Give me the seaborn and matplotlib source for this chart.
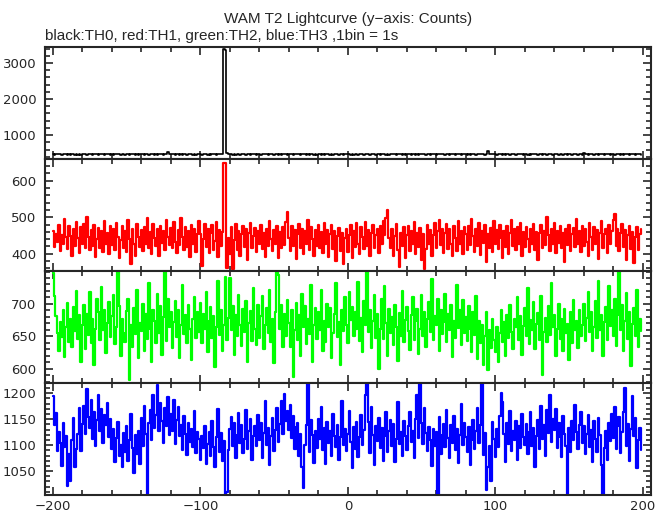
import numpy as np
import matplotlib
matplotlib.use("Agg")
import matplotlib.pyplot as plt
import seaborn as sns
from matplotlib.ticker import MultipleLocator

# counts per 1 s bin, starting at t = -200 s
th0 = [
    470, 458, 476, 462, 481, 467, 455, 473, 463, 478, 460, 469, 452, 474, 466, 459, 477, 461, 470, 456,
    468, 479, 463, 454, 472, 466, 483, 459, 471, 462, 475, 457, 468, 480, 464, 453, 470, 466, 476, 460,
    472, 458, 467, 479, 462, 470, 455, 474, 466, 461, 478, 469, 454, 471, 463, 476, 460, 468, 457, 473,
    465, 471, 459, 477, 463, 456, 470, 468, 475, 461, 466, 452, 473, 464, 479, 458, 469, 462, 520, 484,
    470, 463, 476, 458, 467, 472, 455, 469, 461, 478, 464, 457, 471, 466, 474, 460, 468, 453, 475, 462,
    469, 458, 473, 465, 479, 461, 467, 456, 472, 463, 470, 459, 476, 466, 462, 480, 3385, 3370, 498, 471,
    463, 475, 458, 469, 461, 477, 466, 455, 472, 464, 470, 459, 474, 467, 452, 471, 465, 478, 460, 468,
    473, 457, 466, 480, 462, 469, 455, 475, 463, 471, 458, 467, 476, 461, 470, 454, 468, 473, 465, 459,
    471, 464, 477, 458, 469, 462, 474, 467, 455, 472, 463, 479, 460, 468, 456, 473, 466, 461, 475, 459,
    467, 474, 460, 469, 456, 472, 465, 478, 461, 470, 458, 466, 475, 463, 453, 471, 467, 460, 476, 464,
    487, 472, 461, 468, 455, 474, 466, 459, 477, 463, 470, 457, 469, 475, 462, 451, 472, 466, 479, 460,
    468, 473, 457, 470, 464, 478, 461, 469, 455, 472, 466, 480, 463, 458, 471, 467, 475, 460, 469, 454,
    472, 463, 477, 459, 468, 474, 461, 470, 456, 466, 479, 462, 471, 458, 467, 473, 460, 476, 464, 469,
    457, 471, 466, 475, 462, 469, 453, 473, 465, 460, 478, 467, 471, 459, 474, 463, 468, 456, 472, 466,
    470, 461, 475, 458, 467, 473, 464, 456, 471, 468, 477, 462, 469, 459, 474, 560, 486, 470, 463, 475,
    467, 458, 472, 464, 478, 461, 469, 455, 473, 466, 460, 476, 463, 470, 457, 468, 474, 462, 471, 459,
    474, 465, 460, 471, 457, 468, 476, 463, 470, 454, 467, 473, 461, 478, 466, 459, 472, 464, 469, 456,
    470, 463, 477, 460, 468, 474, 458, 466, 472, 461, 469, 475, 457, 467, 463, 479, 460, 471, 465, 458,
    496, 474, 466, 459, 472, 463, 470, 456, 475, 468, 461, 473, 464, 469, 455, 471, 466, 478, 460, 467,
    472, 458, 469, 463, 476, 461, 468, 454, 473, 466, 470, 459, 475, 462, 468, 457, 471, 464, 469, 460,
]

th1 = [
    462, 418, 455, 431, 480, 408, 452, 427, 496, 445, 413, 477, 449, 394, 468, 421, 486, 442, 403, 473,
    428, 481, 415, 502, 447, 409, 466, 422, 478, 392, 441, 470, 417, 462, 405, 489, 426, 458, 399, 476,
    423, 467, 411, 484, 445, 388, 438, 476, 417, 461, 404, 493, 440, 372, 469, 426, 395, 481, 446, 418,
    465, 408, 472, 427, 498, 416, 459, 400, 482, 443, 421, 468, 394, 477, 429, 462, 410, 492, 445, 423,
    471, 415, 488, 431, 402, 466, 424, 499, 447, 409, 473, 419, 462, 391, 480, 427, 468, 406, 454, 489,
    453, 366, 440, 482, 418, 469, 401, 457, 478, 411, 436, 488, 392, 465, 420, 459, 650, 648, 361, 442,
    400, 473, 358, 437, 482, 409, 461, 395, 454, 476, 418, 467, 383, 458, 485, 416, 449, 471, 404, 462,
    426, 480, 413, 457, 392, 469, 422, 491, 441, 407, 465, 428, 476, 388, 459, 417, 472, 425, 488, 515,
    442, 408, 477, 421, 464, 386, 455, 482, 416, 468, 399, 461, 427, 493, 410, 473, 441, 395, 466, 422,
    478, 417, 459, 403, 485, 428, 466, 391, 454, 480, 414, 462, 380, 449, 471, 408, 457, 372, 443, 468,
    405, 452, 478, 387, 461, 419, 484, 426, 400, 473, 445, 412, 488, 421, 466, 393, 457, 479, 415, 451,
    468, 403, 476, 427, 490, 452, 499, 521, 443, 416, 469, 395, 448, 481, 409, 364, 458, 422, 472, 389,
    451, 476, 408, 463, 426, 488, 400, 457, 419, 471, 384, 455, 359, 413, 478, 427, 465, 394, 452, 484,
    416, 462, 493, 423, 469, 402, 456, 481, 414, 467, 428, 393, 475, 442, 408, 489, 426, 461, 399, 473,
    455, 411, 477, 425, 496, 448, 406, 469, 420, 484, 397, 462, 429, 478, 378, 454, 416, 471, 405, 490,
    427, 466, 412, 480, 443, 388, 461, 419, 476, 400, 457, 492, 422, 468, 409, 472, 428, 485, 393, 459,
    418, 473, 441, 406, 467, 427, 482, 410, 459, 383, 456, 478, 415, 463, 424, 502, 451, 407, 469, 426,
    484, 401, 462, 429, 475, 416, 458, 377, 467, 423, 479, 408, 454, 471, 418, 496, 427, 463, 404, 476,
    421, 468, 432, 395, 483, 447, 411, 472, 426, 464, 386, 458, 489, 417, 455, 469, 403, 478, 428, 461,
    492, 509, 422, 468, 407, 456, 481, 419, 465, 382, 451, 476, 413, 460, 375, 447, 472, 409, 455, 468,
]

th2 = [
    748, 712, 681, 655, 628, 672, 649, 690, 618, 664, 702, 641, 677, 633, 695, 658, 720, 646, 683, 610,
    667, 698, 631, 684, 652, 719, 640, 676, 605, 662, 707, 688, 645, 726, 659, 691, 624, 670, 703, 649,
    681, 713, 638, 664, 750, 697, 620, 677, 655, 641, 689, 708, 582, 668, 634, 693, 653, 722, 616, 671,
    658, 700, 627, 684, 646, 733, 662, 611, 690, 674, 639, 716, 655, 697, 621, 680, 750, 643, 708, 665,
    687, 632, 672, 705, 649, 691, 617, 668, 729, 654, 683, 640, 699, 662, 613, 676, 710, 647, 688, 657,
    702, 639, 684, 661, 719, 626, 673, 695, 648, 681, 603, 664, 736, 652, 690, 628, 667, 742, 645, 678,
    740, 659, 697, 621, 683, 650, 714, 668, 635, 692, 657, 704, 610, 671, 689, 643, 725, 662, 637, 699,
    648, 682, 712, 630, 667, 694, 655, 721, 641, 676, 608, 688, 750, 744, 662, 698, 633, 684, 651, 706,
    671, 634, 690, 587, 659, 702, 645, 683, 620, 715, 664, 697, 638, 676, 654, 729, 611, 668, 693, 646,
    687, 659, 722, 628, 673, 641, 700, 664, 694, 617, 655, 685, 732, 649, 672, 606, 691, 658, 710, 668,
    639, 718, 675, 696, 651, 688, 662, 734, 643, 679, 625, 704, 668, 750, 656, 691, 632, 673, 713, 648,
    684, 600, 662, 708, 646, 727, 670, 619, 692, 655, 680, 637, 699, 664, 612, 686, 651, 720, 641, 675,
    696, 658, 629, 683, 710, 645, 673, 692, 623, 661, 714, 650, 688, 634, 677, 703, 657, 739, 644, 681,
    668, 707, 627, 690, 653, 672, 716, 641, 685, 660, 698, 618, 674, 648, 729, 663, 690, 637, 706, 655,
    680, 643, 697, 661, 626, 688, 652, 712, 615, 674, 639, 668, 605, 650, 688, 598, 660, 632, 676, 645,
    625, 664, 611, 655, 690, 641, 672, 619, 683, 648, 699, 657, 630, 676, 664, 711, 645, 682, 621, 666,
    693, 650, 724, 638, 675, 659, 703, 631, 669, 686, 644, 712, 590, 657, 678, 641, 697, 652, 733, 664,
    683, 620, 661, 700, 646, 677, 628, 692, 655, 669, 613, 687, 640, 706, 659, 674, 632, 690, 651, 668,
    700, 642, 678, 719, 656, 687, 627, 664, 705, 648, 735, 660, 683, 619, 672, 696, 645, 728, 666, 690,
    651, 707, 635, 683, 750, 660, 699, 628, 674, 717, 646, 688, 604, 669, 694, 650, 722, 633, 677, 658,
]

th3 = [
    1195, 1138, 1162, 1089, 1126, 1104, 1060, 1142, 1097, 1118, 1022, 1083, 1030, 1109, 1152, 1058, 1092, 1122, 1171, 1088,
    1140, 1176, 1121, 1208, 1155, 1134, 1187, 1112, 1163, 1098, 1148, 1196, 1127, 1170, 1105, 1158, 1139, 1182, 1116, 1150,
    1092, 1131, 1068, 1113, 1145, 1079, 1101, 1058, 1124, 1086, 1137, 1070, 1109, 1160, 1095, 1047, 1119, 1082, 1128, 1064,
    1153, 1099, 1175, 1121, 1005, 1142, 1168, 1110, 1197, 1134, 1158, 1215, 1127, 1181, 1146, 1105, 1172, 1137, 1192, 1119,
    1160, 1128, 1187, 1103, 1149, 1174, 1117, 1138, 1091, 1156, 1122, 1081, 1143, 1106, 1132, 1097, 1165, 1085, 1125, 1111,
    1072, 1118, 1094, 1137, 1063, 1102, 1125, 1079, 1146, 1097, 1058, 1115, 1170, 1086, 1123, 1069, 1108, 1006, 1009, 1090,
    1132, 1155, 1098, 1143, 1076, 1120, 1161, 1105, 1139, 1084, 1112, 1167, 1093, 1128, 1150, 1071, 1117, 1136, 1099, 1158,
    1110, 1142, 1075, 1124, 1185, 1101, 1133, 1062, 1118, 1152, 1089, 1129, 1171, 1106, 1140, 1185, 1121, 1198, 1147, 1165,
    1130, 1178, 1114, 1156, 1093, 1135, 1143, 1080, 1122, 1058, 1017, 1101, 1139, 1220, 1087, 1149, 1119, 1066, 1127, 1095,
    1151, 1112, 1173, 1090, 1134, 1063, 1145, 1104, 1127, 1080, 1160, 1118, 1097, 1138, 1072, 1115, 1186, 1101, 1131, 1089,
    1122, 1166, 1107, 1056, 1135, 1093, 1144, 1078, 1116, 1158, 1101, 1129, 1197, 1220, 1145, 1084, 1174, 1119, 1061, 1137,
    1108, 1152, 1095, 1134, 1070, 1117, 1163, 1086, 1127, 1149, 1099, 1140, 1068, 1112, 1183, 1103, 1125, 1079, 1146, 1118,
    1091, 1137, 1164, 1107, 1128, 1075, 1150, 1196, 1113, 1220, 1143, 1102, 1171, 1124, 1088, 1135, 1110, 1059, 1132, 1098,
    1126, 1005, 1154, 1083, 1119, 1141, 1097, 1168, 1114, 1076, 1138, 1105, 1157, 1090, 1131, 1066, 1120, 1179, 1100, 1143,
    1116, 1087, 1135, 1062, 1109, 1148, 1093, 1127, 1171, 1105, 1139, 1220, 1081, 1124, 1013, 1058, 1099, 1030, 1145, 1112,
    1077, 1132, 1096, 1157, 1200, 1184, 1121, 1068, 1143, 1103, 1166, 1089, 1128, 1110, 1147, 1072, 1137, 1094, 1160, 1115,
    1101, 1141, 1083, 1126, 1163, 1098, 1134, 1057, 1118, 1149, 1092, 1175, 1112, 1138, 1080, 1167, 1123, 1196, 1106, 1150,
    1130, 1169, 1094, 1142, 1115, 1077, 1156, 1121, 1099, 1005, 1133, 1086, 1147, 1110, 1178, 1125, 1093, 1139, 1164, 1104,
    1136, 1082, 1121, 1159, 1097, 1130, 1068, 1146, 1112, 1087, 1152, 1119, 1061, 1005, 1095, 1128, 1071, 1143, 1108, 1160,
    1114, 1173, 1092, 1137, 1155, 1084, 1126, 1164, 1210, 1099, 1141, 1070, 1131, 1195, 1117, 1152, 1056, 1109, 1134, 1090,
]

series = [th0, th1, th2, th3]
colors = ["black", "#ff0000", "#00ff00", "#0000ff"]
widths = [1.2, 1.6, 1.6, 1.6]
ylims = [(340, 3450), (353, 660), (578, 751), (1004, 1220)]
yticks = [[1000, 2000, 3000], [400, 500, 600], [600, 650, 700], [1050, 1100, 1150, 1200]]
minor_y = [200, 20, 10, 10]

sns.set_style("ticks")
plt.rcParams["font.family"] = ["Liberation Sans", "DejaVu Sans"]

fig, axes = plt.subplots(4, 1, figsize=(6.69, 5.15), dpi=100, sharex=True,
                         gridspec_kw={"hspace": 0})
fig.subplots_adjust(left=0.067, right=0.973, top=0.909, bottom=0.039)

for ax, vals, c, lw, yl, yt, mn in zip(axes, series, colors, widths, ylims, yticks, minor_y):
    t = np.arange(-200, -200 + len(vals))
    sns.lineplot(x=t, y=vals, ax=ax, color=c, lw=lw, estimator=None,
                 drawstyle="steps-mid")
    ax.set_xlim(-205.5, 205.5)
    ax.set_yticks(yt)
    ax.set_ylim(*yl)
    ax.yaxis.set_minor_locator(MultipleLocator(mn))
    ax.xaxis.set_major_locator(MultipleLocator(100))
    ax.xaxis.set_minor_locator(MultipleLocator(20))
    ax.tick_params(which="both", direction="in", top=True, right=True,
                   labelsize=9.5, width=1.2)
    ax.tick_params(which="major", length=6, pad=6)
    ax.tick_params(which="minor", length=3.5)
    for lab in ax.get_yticklabels() + ax.get_xticklabels():
        lab.set_fontfamily("DejaVu Sans")
    for s in ax.spines.values():
        s.set_linewidth(1.5)
    ax.set_xlabel("")
    ax.set_ylabel("")

axes[-1].tick_params(axis="x", pad=4)

fig.text(0.52, 0.964, "WAM T2 Lightcurve (y\u2212axis: Counts)", ha="center",
         va="center", fontsize=11,
         family=["Liberation Sans Narrow", "Liberation Sans", "DejaVu Sans"])
fig.text(0.068, 0.931, "black:TH0, red:TH1, green:TH2, blue:TH3 ,1bin = 1s",
         ha="left", va="center", fontsize=11)

fig.savefig("out.png", dpi=100)
